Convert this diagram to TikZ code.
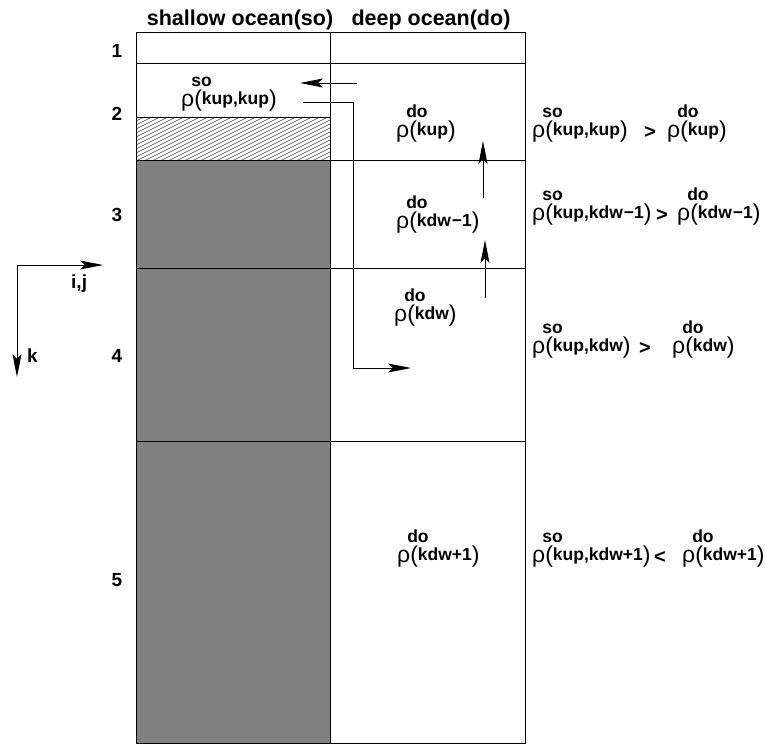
\documentclass[tikz,border=0pt]{standalone}
\usepackage{fontspec}
\setmainfont{Liberation Sans}
\usetikzlibrary{arrows.meta}
\newcommand\rhofont{\fontsize{23}{26}\selectfont}
\newcommand\lblfont{\bfseries\fontsize{17.5}{20}\selectfont}
\newcommand\rhoT[2]{{\rhofont ρ}\kern-3pt\rlap{\raisebox{20pt}{\lblfont #1}}\kern3pt{\rhofont(}\raisebox{2pt}{\lblfont #2}{\rhofont)}}
\tikzset{
  gridline/.style={line width=1pt},
  hatchline/.style={line width=0.55pt, draw=black!75},
  arr/.style={line width=0.9pt, -{Stealth[length=23pt,width=9pt,inset=5pt]}},
  heading/.style={inner sep=0pt, anchor=base, font=\bfseries\fontsize{21.5}{24}\selectfont},
  layernum/.style={inner sep=0pt, font=\bfseries\fontsize{19}{22}\selectfont},
  axislbl/.style={inner sep=0pt, anchor=base west, font=\bfseries\fontsize{19}{22}\selectfont},
  rhonode/.style={inner sep=0pt, anchor=base west},
  relnode/.style={inner sep=0pt, anchor=base west, font=\bfseries\fontsize{20}{22}\selectfont}
}
\begin{document}
\begin{tikzpicture}[x=1pt,y=-1pt]
\useasboundingbox (0,0) rectangle (765,745);
% gray shallow bottom
\fill[black!50] (136,160) rectangle (330,743);
% hatched layer
\begin{scope}
  \clip (136,117) rectangle (330,160);
  \foreach \i in {0,4,...,136} \draw[hatchline] (136,117+\i) -- ++(220,-110);
\end{scope}
% grid
\draw[gridline] (136,32) rectangle (525,743);
\draw[gridline] (330,32) -- (330,743);
\foreach \yy in {63,160,268,441} \draw[gridline] (136,\yy) -- (525,\yy);
\draw[gridline] (136,117) -- (330,117);
% headings
\node[heading] (hso) at (240,25) {shallow ocean(so)};
\node[heading] (hdo) at (431,25) {deep ocean(do)};
% layer numbers
\node[layernum] (l1) at (117,51) {1};
\node[layernum] (l2) at (117,114) {2};
\node[layernum] (l3) at (117,215) {3};
\node[layernum] (l4) at (117,356) {4};
\node[layernum] (l5) at (117,580) {5};
% axes
\coordinate (ax0) at (17,265);
\coordinate (axx) at (103,265);
\coordinate (axy) at (17,377);
\draw[arr] (ax0) -- (axx);
\draw[arr] (ax0) -- (axy);
\node[axislbl] (lij) at (71,288) {i,j};
\node[axislbl] (lk) at (27,362) {k};
% density labels in columns
\node[rhonode] (rso) at (181,106) {\rhoT{so}{kup,kup}};
\node[rhonode] (rdo1) at (396,137) {\rhoT{do}{kup}};
\node[rhonode] (rdo2) at (396,228) {\rhoT{do}{kdw\kern1pt−1}};
\node[rhonode] (rdo3) at (394,321) {\rhoT{do}{kdw}};
\node[rhonode] (rdo4) at (397,562) {\rhoT{do}{kdw+1}};
% arrows
\coordinate (a1s) at (357,83);
\coordinate (a1e) at (300,83);
\draw[arr] (a1s) -- (a1e);
\coordinate (c0) at (303,102);
\coordinate (c1) at (353,102);
\coordinate (c2) at (353,368);
\coordinate (c3) at (411,368);
\draw[arr] (c0) -- (c1) -- (c2) -- (c3);
\coordinate (u1s) at (483,198);
\coordinate (u1e) at (483,141);
\draw[arr] (u1s) -- (u1e);
\coordinate (u2s) at (485,298);
\coordinate (u2e) at (485,240);
\draw[arr] (u2s) -- (u2e);
% inequalities
\node[rhonode] (q1a) at (532,137) {\rhoT{so}{kup,kup}};
\node[relnode] (q1r) at (644,138) {>};
\node[rhonode] (q1b) at (667,137) {\rhoT{do}{kup}};
\node[rhonode] (q2a) at (532,220) {\rhoT{so}{kup,kdw\kern1pt−1}};
\node[relnode] (q2r) at (656,221) {>};
\node[rhonode] (q2b) at (677,220) {\rhoT{do}{kdw\kern1pt−1}};
\node[rhonode] (q3a) at (532,353) {\rhoT{so}{kup,kdw}};
\node[relnode] (q3r) at (639,354) {>};
\node[rhonode] (q3b) at (672,353) {\rhoT{do}{kdw}};
\node[rhonode] (q4a) at (532,562) {\rhoT{so}{kup,kdw+1}};
\node[relnode] (q4r) at (654,563) {<};
\node[rhonode] (q4b) at (682,562) {\rhoT{do}{kdw+1}};
\end{tikzpicture}
\end{document}
